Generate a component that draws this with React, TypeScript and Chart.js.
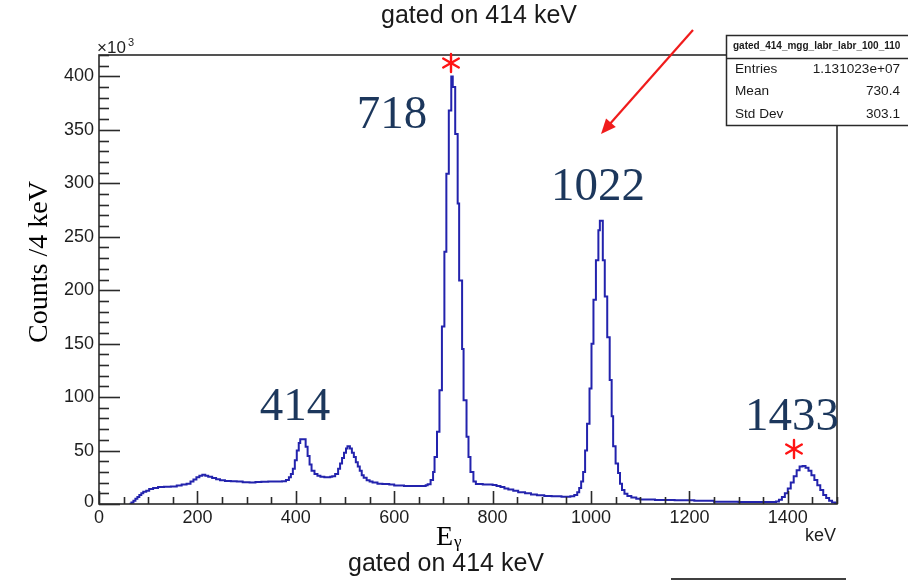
import { useEffect, useRef } from "react";
import { Chart, registerables } from "chart.js";

Chart.register(...registerables);

// Gamma spectrum gated on the 414 keV line: lower bin edge (keV) and counts (x10^3)
const binLowKeV = [
  62, 66, 70, 74, 78, 82, 86, 90, 96, 102, 110, 120, 132, 146, 158, 168, 178, 186, 192, 198,
  204, 210, 216, 222, 230, 238, 246, 256, 268, 280, 292, 306, 318, 330, 344, 360, 372, 380, 386, 390,
  394, 398, 402, 406, 409, 420, 424, 428, 432, 438, 444, 450, 458, 470, 474, 480, 486, 490, 494, 498,
  502, 505, 510, 514, 518, 522, 526, 530, 534, 538, 544, 550, 556, 566, 576, 590, 600, 620, 640, 656,
  664, 668, 674, 679, 682, 687, 692, 697, 702, 706, 711, 716, 719, 724, 729, 732, 738, 741, 747, 751,
  755, 761, 766, 780, 800, 808, 816, 824, 832, 842, 852, 866, 878, 890, 905, 920, 940, 958, 966, 972,
  976, 980, 984, 988, 992, 997, 1001, 1005, 1010, 1015, 1018, 1024, 1028, 1033, 1038, 1042, 1045, 1050, 1055, 1059,
  1063, 1068, 1074, 1082, 1092, 1100, 1130, 1170, 1210, 1250, 1300, 1350, 1376, 1382, 1388, 1394, 1400, 1406, 1412, 1418,
  1424, 1430, 1436, 1442, 1448, 1454, 1460, 1466, 1472, 1478, 1484, 1490, 1496, 1500,
];
const countsK = [
  0.3, 1.5, 3, 5, 6.5, 8.5, 10, 11.5, 12.5, 14, 15, 15.8, 16.2, 16.3, 17.2, 18.3, 19, 21, 23, 25,
  26.5, 27.3, 26.5, 25.5, 24.3, 23.2, 22.3, 21.6, 21.2, 21, 20.3, 20, 20.5, 20.8, 21, 21, 21.3, 22.5, 25, 28,
  33, 41, 50, 57, 60.5, 53.5, 45, 37, 31, 28, 26.5, 25.5, 25, 25.5, 26, 28, 33, 38, 43, 48,
  52, 54, 52, 48, 44, 39, 35, 31, 27, 24.5, 22.3, 21, 20, 19, 18.7, 18.2, 17.3, 16.9, 16.8, 16.9,
  17.5, 18.5, 22.4, 30, 44, 67.6, 106.5, 166, 236, 309, 368, 400, 390, 346, 281, 209, 145, 97, 63, 44,
  30, 21, 18.6, 18.3, 17.8, 16.8, 15.8, 14.6, 13.5, 12.3, 11, 10, 8.8, 8.2, 7.6, 7.2, 6.8, 7.2, 8.5, 11,
  15, 21, 30, 50, 75, 108, 150, 191, 228, 256, 265, 228, 194, 156, 116, 82, 54, 38, 29, 19,
  13, 9.5, 7.5, 6, 5, 4.2, 3.8, 3.4, 3, 2.2, 1.8, 1.8, 2.3, 4, 6.5, 10, 14.5, 20, 26, 31.5,
  35, 35.5, 34, 31, 27, 22.5, 17.5, 13, 8.5, 5.5, 3, 1.5, 0.6, 0.6,
];

const yTickValues = [0, 50, 100, 150, 200, 250, 300, 350, 400];
const xTickValues = [0, 200, 400, 600, 800, 1000, 1200, 1400];
const peakNames = ["414", "718", "1022", "1433"];
const statNames = ["Entries", "Mean", "Std Dev"];
const statValues = ["1.131023e+07", "730.4", "303.1"];
const histName = "gated_414_mgg_labr_labr_100_110";
const gateTitle = "gated on 414 keV";

const SANS = '"Liberation Sans", Arial, sans-serif';
const SERIF = '"Liberation Serif", "Times New Roman", serif';

function drawAsterisk(ctx: CanvasRenderingContext2D, cx: number, cy: number, r: number) {
  ctx.save();
  ctx.strokeStyle = "#ff1414";
  ctx.lineWidth = 2.4;
  ctx.lineCap = "round";
  for (const deg of [90, 30, 150]) {
    const a = (deg * Math.PI) / 180;
    ctx.beginPath();
    ctx.moveTo(cx - r * Math.cos(a), cy - r * Math.sin(a));
    ctx.lineTo(cx + r * Math.cos(a), cy + r * Math.sin(a));
    ctx.stroke();
  }
  ctx.restore();
}

const rootStylePlugin = {
  id: "rootStyle",
  afterDatasetsDraw(chart: any) {
    const { ctx, chartArea: a, scales } = chart;
    const xs = scales.x;
    const ys = scales.y;
    ctx.save();

    // frame
    ctx.strokeStyle = "#2a2a2a";
    ctx.lineWidth = 1.6;
    ctx.strokeRect(a.left, a.top, a.right - a.left, a.bottom - a.top);

    // y ticks (inside the frame)
    ctx.lineWidth = 1.6;
    for (let v = 0; v <= 420; v += 10) {
      const y = Math.round(ys.getPixelForValue(v)) + 0.5;
      const len = v % 50 === 0 ? 21 : 10;
      ctx.beginPath();
      ctx.moveTo(a.left, y);
      ctx.lineTo(a.left + len, y);
      ctx.stroke();
    }
    // x ticks
    for (let v = 0; v <= 1500; v += 50) {
      const x = Math.round(xs.getPixelForValue(v)) + 0.5;
      const len = v % 200 === 0 ? 13 : 7;
      ctx.beginPath();
      ctx.moveTo(x, a.bottom);
      ctx.lineTo(x, a.bottom - len);
      ctx.stroke();
    }

    // tick labels
    ctx.fillStyle = "#1e1e1e";
    ctx.font = `18px ${SANS}`;
    ctx.textAlign = "right";
    ctx.textBaseline = "middle";
    for (const v of yTickValues) {
      ctx.fillText(String(v), a.left - 5, ys.getPixelForValue(v) + (v === 0 ? -2 : 0));
    }
    ctx.textAlign = "center";
    for (const v of xTickValues) {
      ctx.fillText(String(v), xs.getPixelForValue(v), a.bottom + 14);
    }
    ctx.textAlign = "right";
    ctx.fillText("keV", a.right - 1, a.bottom + 32);

    // x10^3 exponent
    ctx.textAlign = "left";
    ctx.textBaseline = "alphabetic";
    ctx.font = `17px ${SANS}`;
    ctx.fillText("\u00d710", a.left - 2, a.top - 2);
    ctx.font = `11px ${SANS}`;
    ctx.fillText("3", a.left + 29, a.top - 9);

    // axis titles
    ctx.fillStyle = "#000";
    ctx.font = `28px ${SERIF}`;
    ctx.save();
    ctx.translate(47, 262);
    ctx.rotate(-Math.PI / 2);
    ctx.textAlign = "center";
    ctx.textBaseline = "alphabetic";
    ctx.fillText("Counts /4 keV", 0, 0);
    ctx.restore();

    ctx.font = `28px ${SERIF}`;
    ctx.textAlign = "left";
    ctx.fillText("E", 436, 545);
    ctx.font = `17px ${SERIF}`;
    ctx.fillText("\u03b3", 454, 547);

    // gate titles
    ctx.fillStyle = "#1a1a1a";
    ctx.font = `25px ${SANS}`;
    ctx.textAlign = "center";
    ctx.textBaseline = "middle";
    ctx.fillText(gateTitle, 479, 16);
    ctx.fillText(gateTitle, 446, 564);

    // peak energy labels
    ctx.fillStyle = "#1c375c";
    ctx.font = `47px ${SERIF}`;
    ctx.textBaseline = "alphabetic";
    const labelPos: Record<string, [number, number]> = {
      "414": [295, 420],
      "718": [392, 128],
      "1022": [598, 200],
      "1433": [792, 430],
    };
    for (const name of peakNames) {
      const [x, y] = labelPos[name];
      ctx.fillText(name, x, y);
    }

    // markers
    drawAsterisk(ctx, 451, 63, 9);
    drawAsterisk(ctx, 794, 449, 9);

    // arrow
    ctx.strokeStyle = "#f01c1c";
    ctx.fillStyle = "#f01c1c";
    ctx.lineWidth = 2.2;
    const x0 = 693, y0 = 30, x1 = 601, y1 = 134;
    const ang = Math.atan2(y1 - y0, x1 - x0);
    const hl = 15, hw = 6.5;
    ctx.beginPath();
    ctx.moveTo(x0, y0);
    ctx.lineTo(x1 - hl * 0.8 * Math.cos(ang), y1 - hl * 0.8 * Math.sin(ang));
    ctx.stroke();
    ctx.beginPath();
    ctx.moveTo(x1, y1);
    ctx.lineTo(x1 - hl * Math.cos(ang) + hw * Math.sin(ang), y1 - hl * Math.sin(ang) - hw * Math.cos(ang));
    ctx.lineTo(x1 - hl * Math.cos(ang) - hw * Math.sin(ang), y1 - hl * Math.sin(ang) + hw * Math.cos(ang));
    ctx.closePath();
    ctx.fill();

    // statistics box
    const bx = 726.5, by = 35.5, bw = 200, bh = 90;
    ctx.fillStyle = "#fff";
    ctx.fillRect(bx, by, bw, bh);
    ctx.strokeStyle = "#2a2a2a";
    ctx.lineWidth = 1.5;
    ctx.strokeRect(bx, by, bw, bh);
    ctx.beginPath();
    ctx.moveTo(bx, 58.5);
    ctx.lineTo(bx + bw, 58.5);
    ctx.stroke();
    ctx.fillStyle = "#1a1a1a";
    ctx.font = `bold 10px ${SANS}`;
    ctx.textAlign = "left";
    ctx.textBaseline = "middle";
    ctx.fillText(histName, 733, 46);
    ctx.font = `13.6px ${SANS}`;
    const rowsY = [69, 91, 114];
    statNames.forEach((n, i) => {
      ctx.textAlign = "left";
      ctx.fillText(n, 735, rowsY[i]);
      ctx.textAlign = "right";
      ctx.fillText(statValues[i], 900, rowsY[i]);
    });

    // rule at the bottom right
    ctx.strokeStyle = "#000";
    ctx.lineWidth = 1.5;
    ctx.beginPath();
    ctx.moveTo(671, 579);
    ctx.lineTo(846, 579);
    ctx.stroke();

    ctx.restore();
  },
};

export default function App() {
  const canvasRef = useRef<HTMLCanvasElement | null>(null);

  useEffect(() => {
    if (!canvasRef.current) return;
    const points = binLowKeV.map((e, i) => ({ x: e, y: countsK[i] }));
    const chart = new Chart(canvasRef.current, {
      type: "line",
      data: {
        datasets: [
          {
            data: points,
            borderColor: "#2323ad",
            borderWidth: 2,
            pointRadius: 0,
            stepped: "before",
            fill: false,
          },
        ],
      },
      options: {
        responsive: false,
        animation: false,
        layout: { padding: { left: 99, right: 71, top: 55, bottom: 77 } },
        plugins: { legend: { display: false }, tooltip: { enabled: false }, title: { display: false } },
        scales: {
          x: { type: "linear", min: 0, max: 1500, display: false },
          y: { type: "linear", min: 0, max: 420, display: false },
        },
      },
      plugins: [rootStylePlugin],
    });
    return () => chart.destroy();
  }, []);

  return (
    <div style={{ position: "fixed", left: 0, top: 0, width: 908, height: 581, background: "#fff" }}>
      <canvas ref={canvasRef} width={908} height={581} />
    </div>
  );
}
